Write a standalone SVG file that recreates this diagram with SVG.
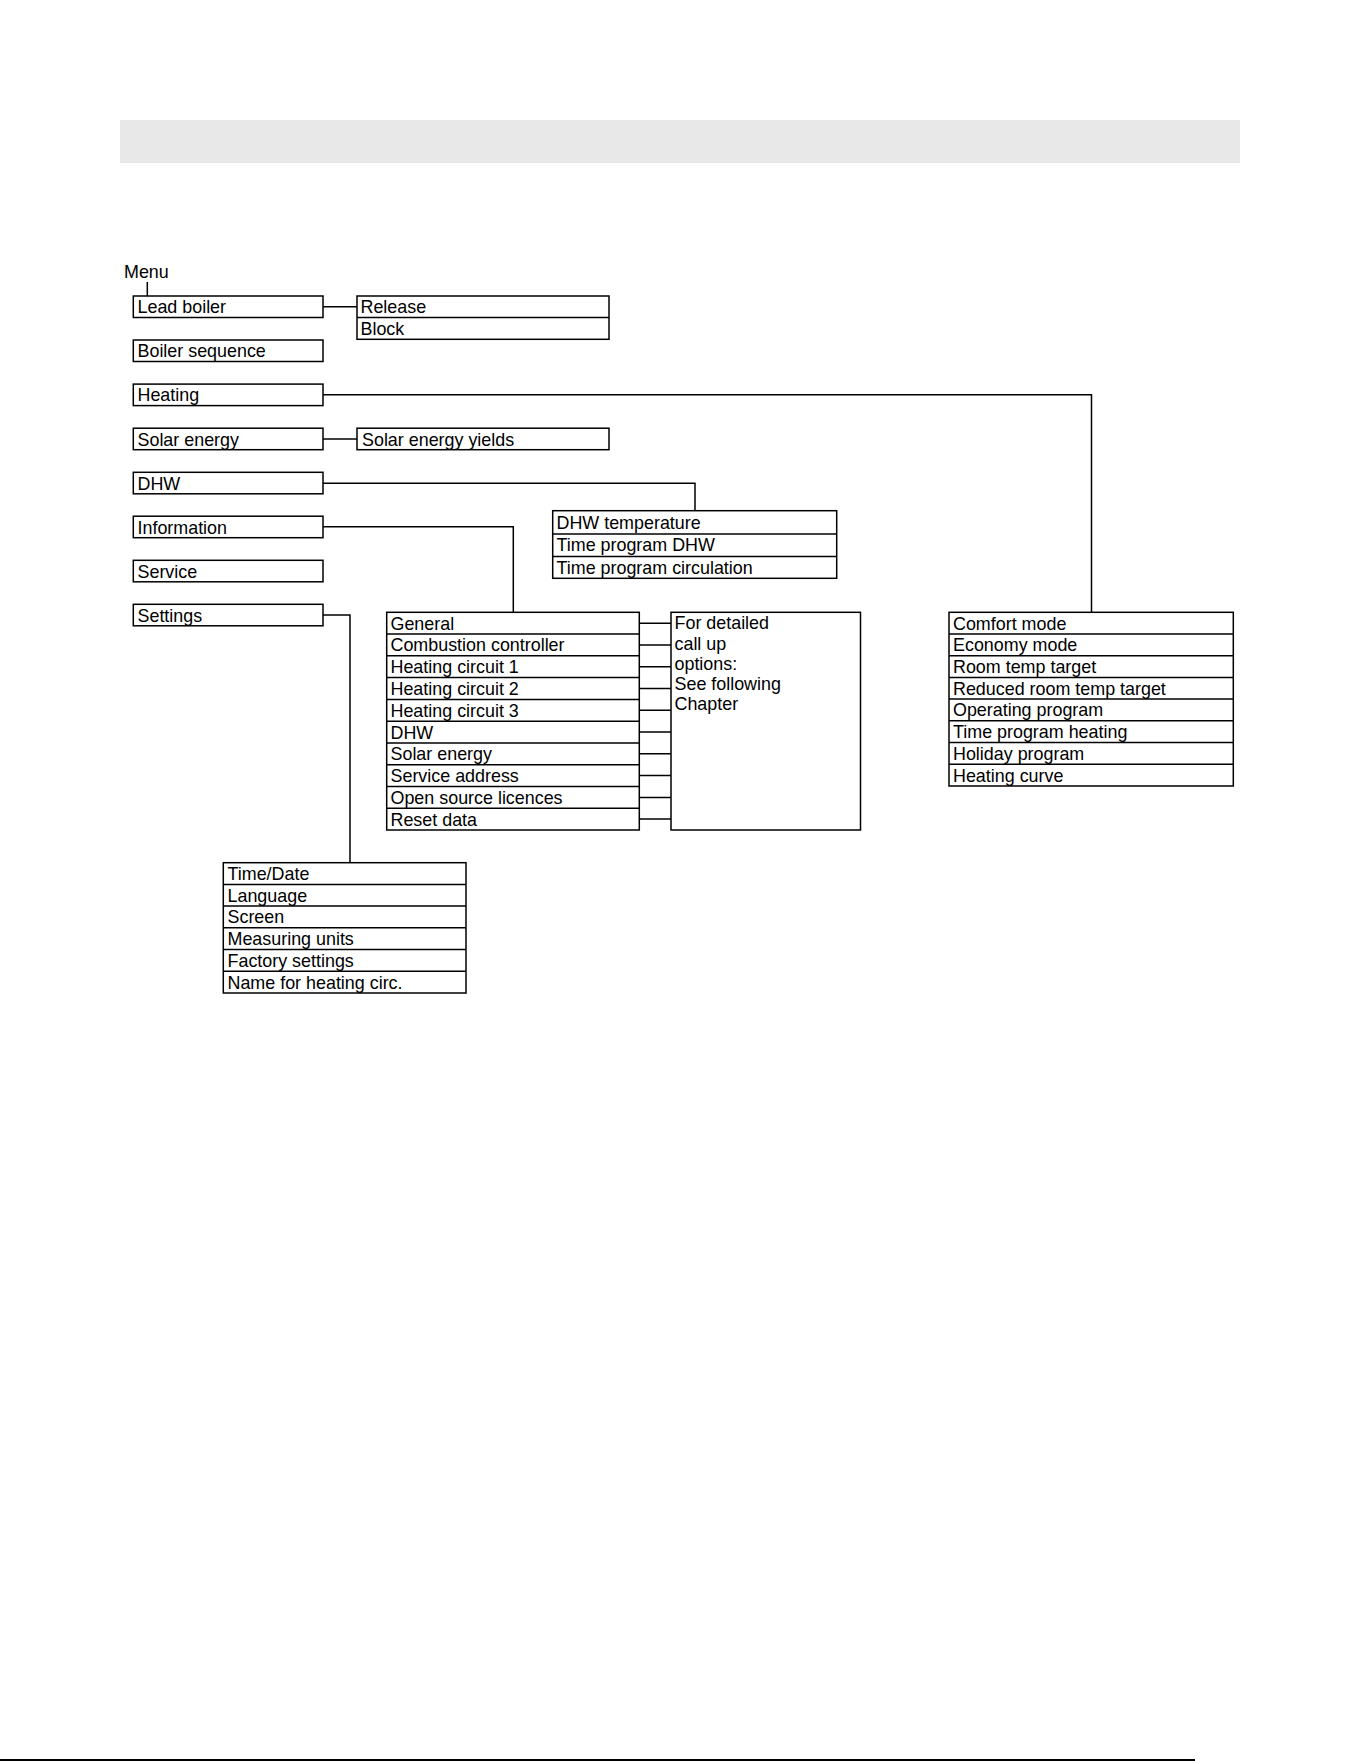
<svg xmlns="http://www.w3.org/2000/svg" width="1361" height="1761" viewBox="0 0 1361 1761">
<style>
  .box { fill: #ffffff; stroke: #000000; stroke-width: 1.5; }
  .div { stroke: #000000; stroke-width: 1.5; fill: none; }
  .wire { stroke: #000000; stroke-width: 1.5; fill: none; }
  .t { font-family: "Liberation Sans", Arial, sans-serif; font-size: 17.9px; fill: #000000; }
</style>
<rect x="0" y="0" width="1361" height="1761" fill="#ffffff"/>
<rect id="header-band" x="120" y="120" width="1120" height="43" fill="#e8e8e8"/>

<g id="connectors">
  <path class="wire" d="M147.3,282 V296"/>
  <path class="wire" d="M323,306.8 H357"/>
  <path class="wire" d="M323,394.7 H1091.5 V612.3"/>
  <path class="wire" d="M323,439 H357"/>
  <path class="wire" d="M323,483.3 H695 V510.7"/>
  <path class="wire" d="M323,526.7 H513.3 V612.3"/>
  <path class="wire" d="M323,615 H350 V862.7"/>
  <path class="wire" d="M639.3,623.2 H671 M639.3,645 H671 M639.3,666.7 H671 M639.3,688.5 H671 M639.3,710.3 H671 M639.3,732 H671 M639.3,753.8 H671 M639.3,775.6 H671 M639.3,797.4 H671 M639.3,819.1 H671"/>
</g>

<g id="menu-label"><text class="t" x="124" y="277.5">Menu</text></g>

<g id="lead-boiler"><rect class="box" x="133.3" y="296" width="189.7" height="21.5"/><text class="t" x="137.5" y="313.3">Lead boiler</text></g>
<g id="boiler-sequence"><rect class="box" x="133.3" y="340" width="189.7" height="21.5"/><text class="t" x="137.5" y="357.3">Boiler sequence</text></g>
<g id="heating"><rect class="box" x="133.3" y="384.1" width="189.7" height="21.5"/><text class="t" x="137.5" y="401.4">Heating</text></g>
<g id="solar-energy"><rect class="box" x="133.3" y="428.2" width="189.7" height="21.5"/><text class="t" x="137.5" y="445.5">Solar energy</text></g>
<g id="dhw"><rect class="box" x="133.3" y="472.3" width="189.7" height="21.5"/><text class="t" x="137.5" y="489.6">DHW</text></g>
<g id="information"><rect class="box" x="133.3" y="516.2" width="189.7" height="21.5"/><text class="t" x="137.5" y="533.5">Information</text></g>
<g id="service"><rect class="box" x="133.3" y="560.3" width="189.7" height="21.5"/><text class="t" x="137.5" y="577.6">Service</text></g>
<g id="settings"><rect class="box" x="133.3" y="604.3" width="189.7" height="21.5"/><text class="t" x="137.5" y="621.6">Settings</text></g>

<g id="release-block">
  <rect class="box" x="357" y="296" width="252" height="43.3"/>
  <line class="div" x1="357" y1="317.6" x2="609" y2="317.6"/>
  <text class="t" x="360.5" y="313.3">Release</text>
  <text class="t" x="360.5" y="334.9">Block</text>
</g>

<g id="solar-energy-yields"><rect class="box" x="357" y="428.2" width="252" height="21.5"/><text class="t" x="362" y="445.5">Solar energy yields</text></g>

<g id="dhw-sub">
  <rect class="box" x="552.7" y="510.7" width="284" height="67.6"/>
  <line class="div" x1="552.7" y1="534" x2="836.7" y2="534"/>
  <line class="div" x1="552.7" y1="556.6" x2="836.7" y2="556.6"/>
  <text class="t" x="556.5" y="528.6">DHW temperature</text>
  <text class="t" x="556.5" y="551.3">Time program DHW</text>
  <text class="t" x="556.5" y="573.8">Time program circulation</text>
</g>

<g id="information-sub">
  <rect class="box" x="386.7" y="612.3" width="252.6" height="217.7"/>
  <path class="div" d="M386.7,634.1 H639.3 M386.7,655.8 H639.3 M386.7,677.6 H639.3 M386.7,699.4 H639.3 M386.7,721.2 H639.3 M386.7,742.9 H639.3 M386.7,764.7 H639.3 M386.7,786.5 H639.3 M386.7,808.2 H639.3"/>
  <text class="t" x="390.5" y="629.6">General</text>
  <text class="t" x="390.5" y="651.4">Combustion controller</text>
  <text class="t" x="390.5" y="673.1">Heating circuit 1</text>
  <text class="t" x="390.5" y="694.9">Heating circuit 2</text>
  <text class="t" x="390.5" y="716.7">Heating circuit 3</text>
  <text class="t" x="390.5" y="738.5">DHW</text>
  <text class="t" x="390.5" y="760.2">Solar energy</text>
  <text class="t" x="390.5" y="782">Service address</text>
  <text class="t" x="390.5" y="803.8">Open source licences</text>
  <text class="t" x="390.5" y="825.5">Reset data</text>
</g>

<g id="detailed-note">
  <rect class="box" x="671" y="612.3" width="189.5" height="217.7"/>
  <text class="t" x="674.5" y="629.3">For detailed</text>
  <text class="t" x="674.5" y="649.5">call up</text>
  <text class="t" x="674.5" y="669.7">options:</text>
  <text class="t" x="674.5" y="689.9">See following</text>
  <text class="t" x="674.5" y="710.1">Chapter</text>
</g>

<g id="heating-sub">
  <rect class="box" x="949" y="612.3" width="284.3" height="173.7"/>
  <path class="div" d="M949,634 H1233.3 M949,655.7 H1233.3 M949,677.4 H1233.3 M949,699.1 H1233.3 M949,720.8 H1233.3 M949,742.6 H1233.3 M949,764.3 H1233.3"/>
  <text class="t" x="953" y="629.6">Comfort mode</text>
  <text class="t" x="953" y="651.3">Economy mode</text>
  <text class="t" x="953" y="673">Room temp target</text>
  <text class="t" x="953" y="694.7">Reduced room temp target</text>
  <text class="t" x="953" y="716.4">Operating program</text>
  <text class="t" x="953" y="738.1">Time program heating</text>
  <text class="t" x="953" y="759.9">Holiday program</text>
  <text class="t" x="953" y="781.6">Heating curve</text>
</g>

<g id="settings-sub">
  <rect class="box" x="223.3" y="862.7" width="242.7" height="130.3"/>
  <path class="div" d="M223.3,884.4 H466 M223.3,906.1 H466 M223.3,927.8 H466 M223.3,949.6 H466 M223.3,971.3 H466"/>
  <text class="t" x="227.5" y="880">Time/Date</text>
  <text class="t" x="227.5" y="901.7">Language</text>
  <text class="t" x="227.5" y="923.4">Screen</text>
  <text class="t" x="227.5" y="945.1">Measuring units</text>
  <text class="t" x="227.5" y="966.9">Factory settings</text>
  <text class="t" x="227.5" y="988.6">Name for heating circ.</text>
</g>

<line id="page-bottom-rule" x1="0" y1="1760" x2="1195" y2="1760" stroke="#000000" stroke-width="2"/>
</svg>
